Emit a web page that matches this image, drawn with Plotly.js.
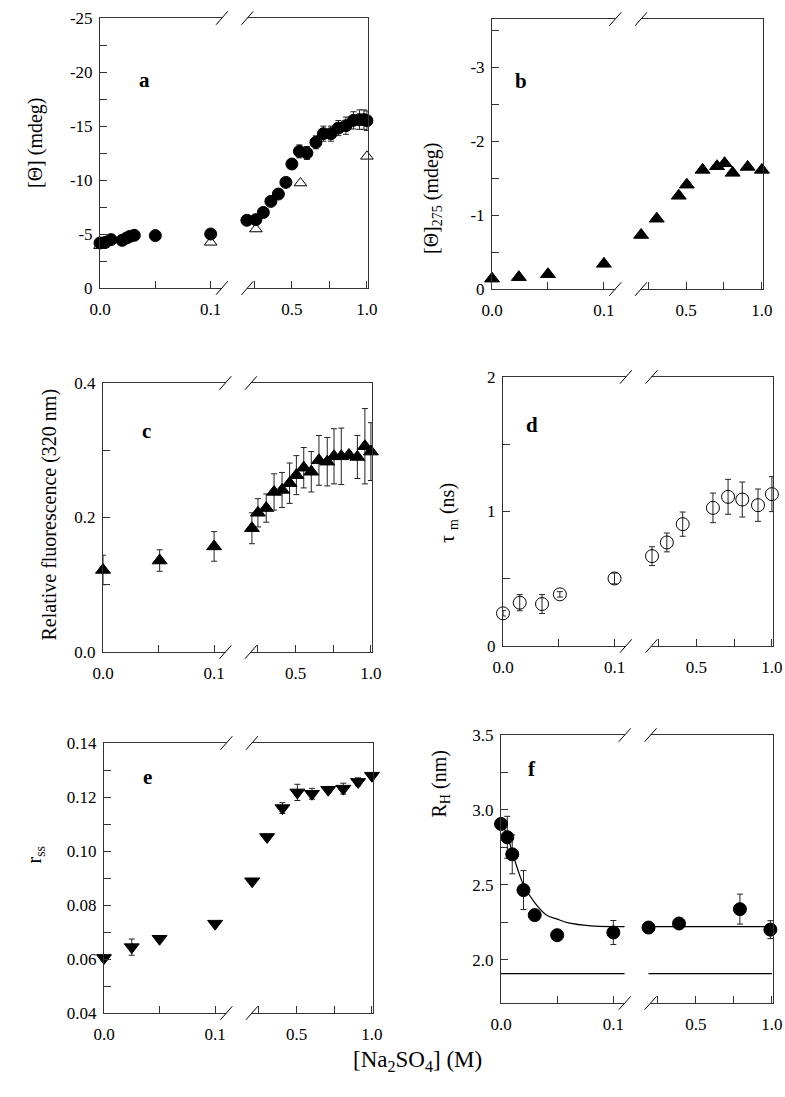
<!DOCTYPE html>
<html>
<head>
<meta charset="utf-8">
<script src="https://cdn.plot.ly/plotly-3.0.1.min.js"></script>
<style>html,body{margin:0;padding:0;background:#fff}#plot{width:785px;height:1097px}</style>
</head>
<body>
<div id="plot"></div>
<script>
// panel a: ellipticity, filled circles and open triangles
const aX = [0, 0.005, 0.01, 0.02, 0.024, 0.027, 0.031, 0.05, 0.1, 0.2, 0.26, 0.31, 0.36, 0.41, 0.46, 0.5, 0.55, 0.6, 0.66, 0.71, 0.76, 0.81, 0.86, 0.91, 0.95, 0.98, 1.0]
const aY = [-4.17, -4.23, -4.48, -4.41, -4.63, -4.78, -4.88, -4.85, -5.0, -6.27, -6.33, -7.0, -8.02, -8.7, -9.78, -11.48, -12.65, -12.5, -13.49, -14.29, -14.29, -14.81, -15.03, -15.52, -15.59, -15.59, -15.49]
const aErr = [0, 0, 0, 0, 0, 0, 0, 0, 0, 0, 0, 0, 0, 0, 0, 0.3, 0.6, 0.6, 0.6, 0.7, 0.7, 0.7, 0.8, 0.8, 0.9, 0.9, 0.9]
const aX2 = [0, 0.1, 0.26, 0.557, 1.0]
const aY2 = [-3.92, -4.23, -5.46, -9.72, -12.19]

// panel b: [Θ]275
const bX = [0, 0.024, 0.05, 0.1, 0.204, 0.307, 0.452, 0.505, 0.609, 0.704, 0.754, 0.807, 0.906, 1.0]
const bY = [-0.14, -0.16, -0.2, -0.34, -0.73, -0.95, -1.26, -1.41, -1.61, -1.66, -1.70, -1.57, -1.65, -1.61]

// panel c: relative fluorescence
const cX = [0, 0.051, 0.1, 0.21, 0.25, 0.305, 0.357, 0.41, 0.46, 0.505, 0.554, 0.604, 0.655, 0.71, 0.755, 0.803, 0.854, 0.91, 0.96, 1.0]
const cY = [0.122, 0.136, 0.157, 0.184, 0.207, 0.214, 0.238, 0.241, 0.251, 0.263, 0.274, 0.268, 0.285, 0.283, 0.291, 0.291, 0.293, 0.290, 0.306, 0.298]
const cErr = [0.022, 0.016, 0.022, 0.023, 0.021, 0.021, 0.027, 0.026, 0.030, 0.029, 0.030, 0.030, 0.037, 0.036, 0.041, 0.042, 0.005, 0.032, 0.056, 0.043]

// panel d: mean lifetime
const dX = [0, 0.015, 0.035, 0.051, 0.1, 0.207, 0.305, 0.41, 0.61, 0.71, 0.804, 0.908, 1.0]
const dY = [0.243, 0.322, 0.312, 0.384, 0.502, 0.668, 0.770, 0.906, 1.027, 1.109, 1.089, 1.047, 1.129]
const dErr = [0.02, 0.06, 0.07, 0.02, 0.04, 0.07, 0.07, 0.09, 0.11, 0.13, 0.13, 0.12, 0.13]

// panel e: steady-state anisotropy
const eX = [0, 0.025, 0.05, 0.1, 0.205, 0.304, 0.406, 0.505, 0.602, 0.71, 0.81, 0.908, 1.0]
const eY = [0.0604, 0.0644, 0.0675, 0.0731, 0.0888, 0.1052, 0.1159, 0.1217, 0.1212, 0.1227, 0.1231, 0.1256, 0.1279]
const eErr = [0.001, 0.003, 0.0005, 0.0005, 0.001, 0.001, 0.002, 0.003, 0.002, 0.001, 0.002, 0.0015, 0.001]

// panel f: hydrodynamic radius, fitted curve and reference line
const fX = [0, 0.0056, 0.01, 0.02, 0.03, 0.05, 0.1, 0.19, 0.39, 0.79, 0.99]
const fY = [2.906, 2.817, 2.703, 2.464, 2.297, 2.163, 2.181, 2.214, 2.241, 2.337, 2.2]
const fErr = [0, 0.14, 0.13, 0.13, 0.03, 0, 0.08, 0, 0, 0.1, 0.06]
const fitX = [0, 0.005, 0.01, 0.015, 0.02, 0.03, 0.04, 0.05, 0.06, 0.08, 0.1, 0.11, null, 0.19, 0.5, 1.0]
const fitY = [2.92, 2.84, 2.72, 2.60, 2.50, 2.38, 2.30, 2.27, 2.245, 2.225, 2.22, 2.22, null, 2.22, 2.22, 2.22]
const refX = [0, 0.11, null, 0.19, 1.0]
const refY = [1.906, 1.906, null, 1.906, 1.906]

const xTickVals = [0, 0.05, 0.1, 0.25, 0.5, 0.75, 1.0]
const xTickText = ['0.0', '', '0.1', '', '0.5', '', '1.0']

// broken axis: 0..0.1 on the left part, 0.2..1.0 on the right part
const u = x => x === null ? null : (x <= 0.15 ? x * 4.13 : 0.576 + (x - 0.25) * 0.56)
const U = arr => arr.map(u)

const W = 785, H = 1097
const panels = [
	{ id: 'a', box: [100, 368, 18, 288], yr: [0, -25], yt: [-25, -22.5, -20, -17.5, -15, -12.5, -10, -7.5, -5, -2.5, 0], ylab: ['-25', '', '-20', '', '-15', '', '-10', '', '-5', '', '0'] },
	{ id: 'b', box: [492, 763, 19, 289], yr: [0, -3.65], yt: [-3.5, -3, -2.5, -2, -1.5, -1, -0.5, 0], ylab: ['', '-3', '', '-2', '', '-1', '', '0'] },
	{ id: 'c', box: [103, 372, 383, 652], yr: [0, 0.4], yt: [0, 0.1, 0.2, 0.3, 0.4], ylab: ['0.0', '', '0.2', '', '0.4'] },
	{ id: 'd', box: [503, 773, 377, 646], yr: [0, 2], yt: [0, 0.5, 1, 1.5, 2], ylab: ['0', '', '1', '', '2'] },
	{ id: 'e', box: [104, 373, 743, 1013], yr: [0.04, 0.14], yt: [0.04, 0.05, 0.06, 0.07, 0.08, 0.09, 0.1, 0.11, 0.12, 0.13, 0.14], ylab: ['0.04', '', '0.06', '', '0.08', '', '0.10', '', '0.12', '', '0.14'] },
	{ id: 'f', box: [501, 773, 735, 1003], yr: [1.71, 3.5], yt: [2, 2.25, 2.5, 2.75, 3, 3.25, 3.5], ylab: ['2.0', '', '2.5', '', '3.0', '', '3.5'] },
]

const font = { family: '"Liberation Serif", serif', color: '#000' }
const layout = { width: W, height: H, margin: { l: 0, r: 0, t: 0, b: 0 }, showlegend: false, paper_bgcolor: '#fff', plot_bgcolor: '#fff', font: { ...font, size: 17 }, shapes: [], annotations: [] }

panels.forEach((p, i) => {
	const n = i === 0 ? '' : String(i + 1)
	const [x0, x1, y0, y1] = p.box
	layout['xaxis' + n] = {
		domain: [x0 / W, x1 / W], range: [0, 1], anchor: 'y' + n,
		showline: true, mirror: true, linecolor: '#333', linewidth: 1, showgrid: false, zeroline: false,
		ticks: 'inside', ticklen: 7, tickcolor: '#333', tickvals: U(xTickVals), ticktext: xTickText,
		tickfont: { ...font, size: 17 }, ticklabelstandoff: 6,
	}
	layout['yaxis' + n] = {
		domain: [1 - y1 / H, 1 - y0 / H], range: p.yr, anchor: 'x' + n,
		showline: true, mirror: true, linecolor: '#333', linewidth: 1, showgrid: false, zeroline: false,
		ticks: 'inside', ticklen: 7, tickcolor: '#333', tickvals: p.yt, ticktext: p.ylab,
		tickfont: { ...font, size: 17 }, ticklabelstandoff: 3,
	}
	const xr = 'x' + n, yd = 'y' + n + ' domain'
	for (const yy of [0, 1]) {
		layout.shapes.push({ type: 'rect', xref: xr, yref: yd, x0: 0.455, x1: 0.55, y0: yy - 0.012, y1: yy + 0.012, fillcolor: '#fff', line: { width: 0 }, layer: 'above' })
		for (const cx of [0.455, 0.55])
			layout.shapes.push({ type: 'line', xref: xr, yref: yd, x0: cx - 0.022, x1: cx + 0.022, y0: yy - 0.025, y1: yy + 0.025, line: { color: '#000', width: 1 }, layer: 'above' })
	}
	layout.annotations.push({ text: '<b>' + p.id + '</b>', xref: 'paper', yref: 'paper', x: (x0 + 37) / W, y: 1 - (y0 + 48) / H, showarrow: false, font: { ...font, size: 21 } })
})

const yTitles = [
	['[Θ] (mdeg)', 22, 95],
	['[Θ]<sub>275</sub> (mdeg)', 432, 140],
	['Relative fluorescence (320 nm)', 36, 515],
	['τ <sub>m</sub> (ns)', 448, 513],
	['r<sub>ss</sub>', 20, 866],
	['R<sub>H</sub> (nm)', 440, 820],
]
for (const [t, x, y] of yTitles)
	layout.annotations.push({ text: t, xref: 'paper', yref: 'paper', x: x / W, y: 1 - y / H, textangle: -90, showarrow: false, font: { ...font, size: 20 } })
layout.annotations.push({ text: '[Na<sub>2</sub>SO<sub>4</sub>] (M)', xref: 'paper', yref: 'paper', x: 417 / W, y: 1 - 1077 / H, showarrow: false, font: { ...font, size: 23 } })

const errOpts = arr => ({ type: 'data', array: arr, visible: true, color: '#222', thickness: 1, width: 3 })
const pts = (x, y, ax, sym, size, err, extra = {}) => ({
	x: U(x), y, xaxis: 'x' + ax, yaxis: 'y' + ax, type: 'scatter', mode: 'markers',
	marker: { symbol: sym, size, color: '#000', line: { color: '#000', width: 1 } },
	error_y: err ? errOpts(err) : undefined, cliponaxis: false, ...extra
})

const data = [
	pts(aX, aY, '', 'circle', 12, aErr),
	pts(aX2, aY2, '', 'triangle-up-open', 11, null),
	pts(bX, bY, '2', 'triangle-up', 13, null),
	pts(cX, cY, '3', 'triangle-up', 13, cErr),
	pts(dX, dY, '4', 'circle-open', 13, dErr),
	pts(eX, eY, '5', 'triangle-down', 13, eErr),
	{ x: U(fitX), y: fitY, xaxis: 'x6', yaxis: 'y6', type: 'scatter', mode: 'lines', line: { color: '#000', width: 1.2, shape: 'spline' }, connectgaps: false },
	{ x: U(refX), y: refY, xaxis: 'x6', yaxis: 'y6', type: 'scatter', mode: 'lines', line: { color: '#000', width: 1.2 }, connectgaps: false },
	pts(fX, fY, '6', 'circle', 13, fErr),
]

Plotly.newPlot('plot', data, layout, { staticPlot: true })
</script>
</body>
</html>
